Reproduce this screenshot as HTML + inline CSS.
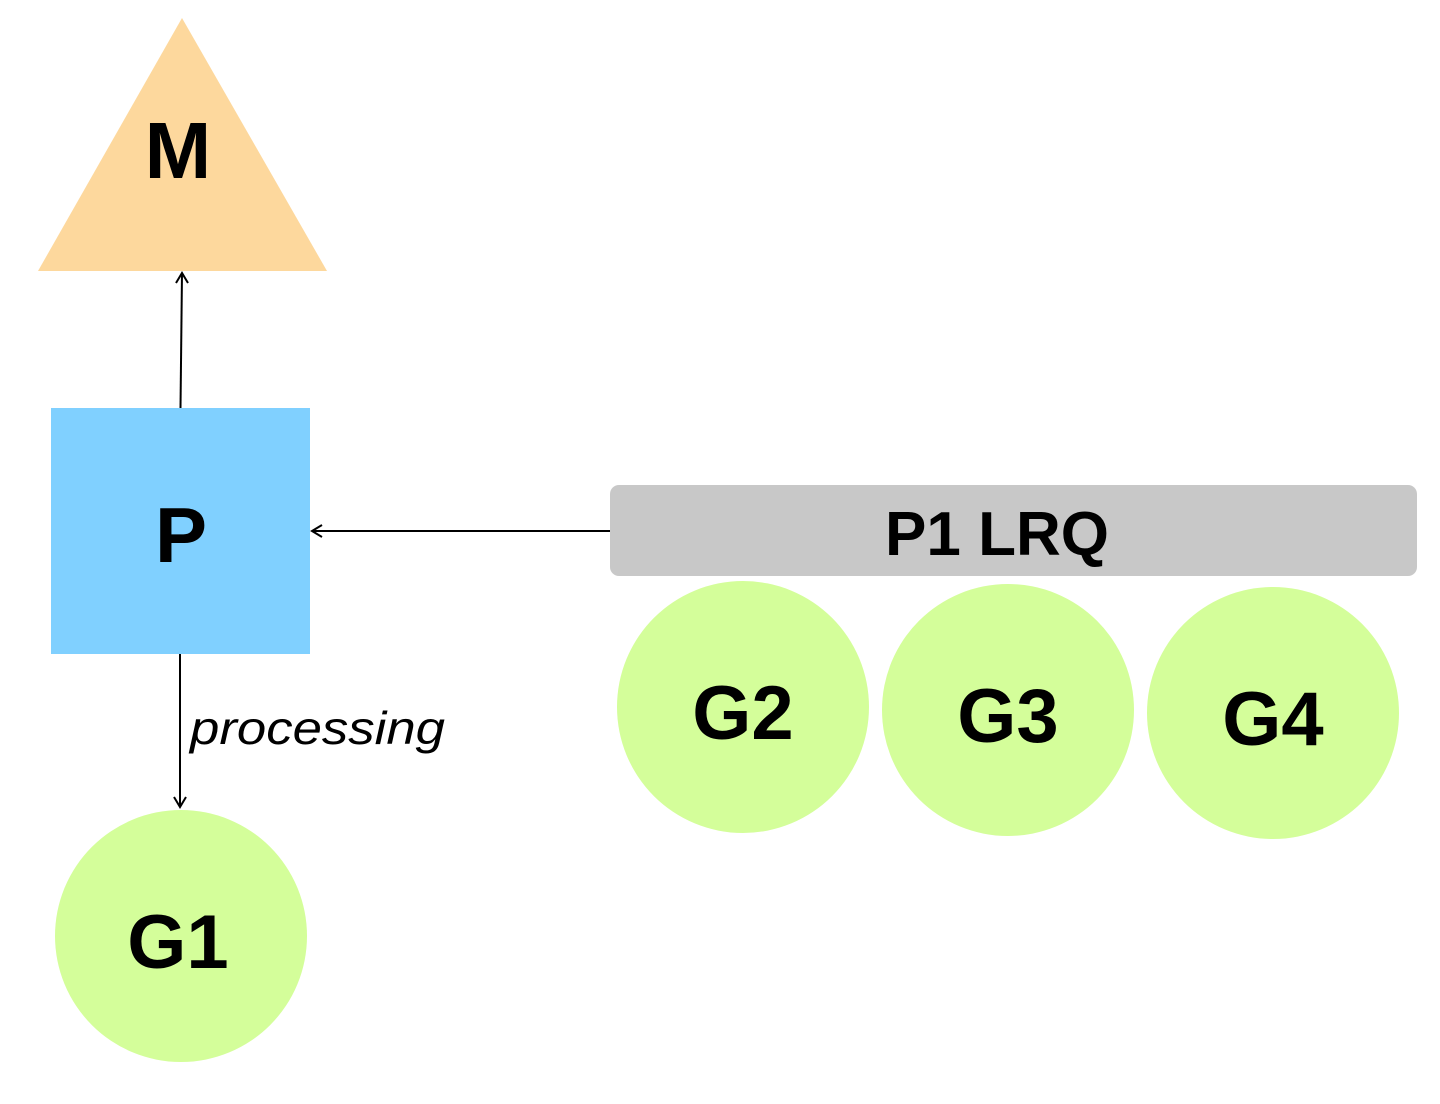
<!DOCTYPE html>
<html><head><meta charset="utf-8"><style>
html,body{margin:0;padding:0;background:#fff;}
svg{display:block;}
text{font-family:"Liberation Sans",sans-serif;}
</style></head><body>
<svg width="1440" height="1104" viewBox="0 0 1440 1104" xmlns="http://www.w3.org/2000/svg">
<polygon points="182,18 38,271 327,271" fill="#FDD89D"/>
<text x="178" y="178" font-size="80" font-weight="bold" text-anchor="middle" fill="#000">M</text>
<line x1="180.5" y1="408" x2="182" y2="273" stroke="#000" stroke-width="2"/>
<polyline points="176,283 182,273 188,283" fill="none" stroke="#000" stroke-width="2"/>
<rect x="51" y="408" width="259" height="246" fill="#80D0FF"/>
<text x="181" y="562" font-size="78" font-weight="bold" text-anchor="middle" fill="#000">P</text>
<line x1="610" y1="531" x2="312" y2="531" stroke="#000" stroke-width="2"/>
<polyline points="322,525 312,531 322,537" fill="none" stroke="#000" stroke-width="2"/>
<rect x="610" y="485" width="807" height="91" rx="9" fill="#C8C8C8"/>
<text x="997" y="555" font-size="62" font-weight="bold" text-anchor="middle" fill="#000">P1 LRQ</text>
<line x1="180" y1="654" x2="180" y2="807" stroke="#000" stroke-width="2"/>
<polyline points="174,797 180,807 186,797" fill="none" stroke="#000" stroke-width="2"/>
<text x="190" y="744" font-size="46" font-style="italic" fill="#000" textLength="255" lengthAdjust="spacingAndGlyphs">processing</text>
<circle cx="743" cy="707" r="126" fill="#D4FE9A"/>
<circle cx="1008" cy="710" r="126" fill="#D4FE9A"/>
<circle cx="1273" cy="713" r="126" fill="#D4FE9A"/>
<circle cx="181" cy="936" r="126" fill="#D4FE9A"/>
<text x="743" y="739" font-size="76" font-weight="bold" text-anchor="middle" fill="#000">G2</text>
<text x="1008" y="742" font-size="76" font-weight="bold" text-anchor="middle" fill="#000">G3</text>
<text x="1273" y="745" font-size="76" font-weight="bold" text-anchor="middle" fill="#000">G4</text>
<text x="178" y="968" font-size="76" font-weight="bold" text-anchor="middle" fill="#000">G1</text>
</svg>
</body></html>
